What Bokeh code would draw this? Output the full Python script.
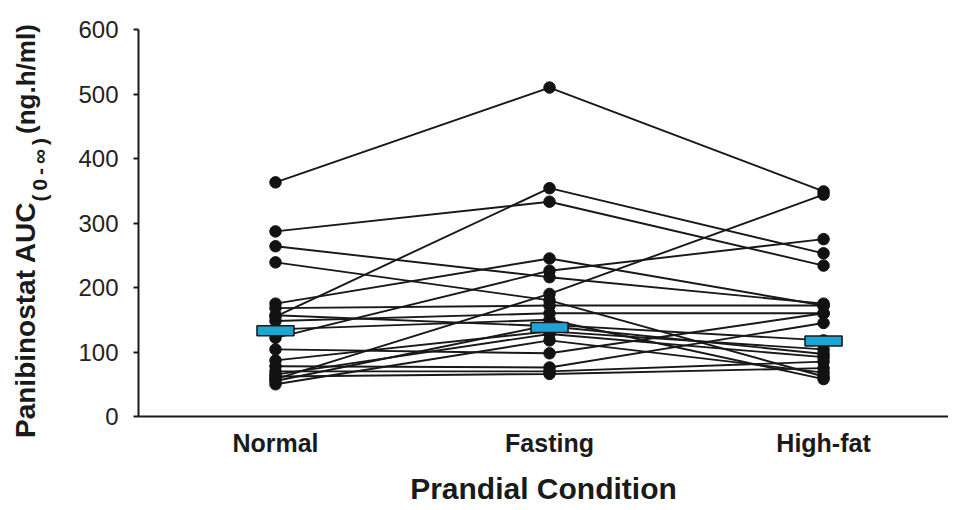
from bokeh.plotting import figure
from bokeh.layouts import row
from bokeh.models import FixedTicker, ColumnDataSource, Range1d, Div
from bokeh.embed import file_html
from bokeh.resources import INLINE

# ---- data ----
conditions = ["Normal", "Fasting", "High-fat"]
normal   = [363, 287, 264, 239, 155, 58, 175, 122, 168, 148, 135, 104, 87, 78, 70, 62, 50, 157, 55, 65]
fasting  = [510, 333, 216, 180, 354, 190, 245, 226, 172, 160, 150, 98, 132, 76, 70, 66, 118, 140, 142, 128]
high_fat = [349, 234, 175, 62, 253, 344, 172, 275, 172, 160, 58, 160, 104, 145, 85, 75, 68, 97, 118, 92]
means = [133, 138, 117]
y_ticks = [0, 100, 200, 300, 400, 500, 600]
x_title = "Prandial Condition"
y_title_main = "Panibinostat AUC"
y_title_sub = "(0-\u221e)"
y_title_unit = "(ng.h/ml)"

pos = list(range(len(conditions)))

# ---- sources ----
line_src = ColumnDataSource(dict(
    xs=[pos for _ in normal],
    ys=[[n, f, h] for n, f, h in zip(normal, fasting, high_fat)],
))
pt_x, pt_y = [], []
for i, col in enumerate([normal, fasting, high_fat]):
    pt_x += [pos[i]] * len(col)
    pt_y += col
pt_src = ColumnDataSource(dict(x=pt_x, y=pt_y))
mean_src = ColumnDataSource(dict(x=pos, y=means))

FONT = "Liberation Sans"
H = 507
TW = 60

# ---- main chart ----
p = figure(width=888, height=H, output_backend="svg", toolbar_location=None,
           x_range=Range1d(-0.5, 2.456), y_range=Range1d(0, 600),
           min_border_left=78, min_border_right=0, min_border_top=29, min_border_bottom=91)
p.grid.visible = False
p.outline_line_color = None

p.multi_line("xs", "ys", source=line_src, line_color="#181818", line_width=1.9)
p.scatter("x", "y", source=pt_src, size=11.5, fill_color="#121212", line_color="#121212")
p.rect("x", "y", source=mean_src, width=37, height=10, width_units="screen", height_units="screen",
       fill_color="#1fa3d3", line_color="#1a1a1a", line_width=1.6)

xa = p.xaxis[0]
xa.ticker = FixedTicker(ticks=pos)
xa.major_label_overrides = {i: c for i, c in enumerate(conditions)}
xa.major_tick_line_color = None
xa.minor_tick_line_color = None
xa.axis_line_width = 2
xa.axis_line_color = "#1a1a1a"
xa.major_label_text_font = FONT
xa.major_label_text_font_style = "bold"
xa.major_label_text_font_size = "25px"
xa.major_label_text_color = "#1a1a1a"
xa.major_label_standoff = 6
xa.axis_label = x_title
xa.axis_label_text_font = FONT
xa.axis_label_text_font_style = "bold"
xa.axis_label_text_font_size = "30px"
xa.axis_label_text_color = "#1a1a1a"
xa.axis_label_standoff = 12

ya = p.yaxis[0]
ya.ticker = FixedTicker(ticks=y_ticks)
ya.minor_tick_line_color = None
ya.major_tick_out = 5
ya.major_tick_in = 0
ya.major_tick_line_width = 2
ya.major_tick_line_color = "#1a1a1a"
ya.axis_line_width = 2
ya.axis_line_color = "#1a1a1a"
ya.major_label_text_font = FONT
ya.major_label_text_font_size = "24px"
ya.major_label_text_color = "#222222"
ya.major_label_standoff = 15

# ---- rotated y title with real subscript ----
title_html = (
    f'<div style="position:relative;width:{TW}px;height:{H}px;overflow:visible;">'
    f'<div style="position:absolute;left:10px;top:438px;transform:rotate(-90deg);'
    f'transform-origin:left top;white-space:nowrap;font-family:\'{FONT}\';'
    f'font-weight:bold;font-size:28px;line-height:1.117;color:#1a1a1a;">'
    f'{y_title_main}<span style="font-size:21px;letter-spacing:4px;position:relative;top:12px;'
    f'padding-left:1px;">{y_title_sub}</span>'
    f'<span style="font-size:26px;">{y_title_unit}</span></div></div>'
)
t = Div(text=title_html, width=TW, height=H, margin=0)

layout = row(t, p)
open("out.html", "w").write(file_html(layout, INLINE))
